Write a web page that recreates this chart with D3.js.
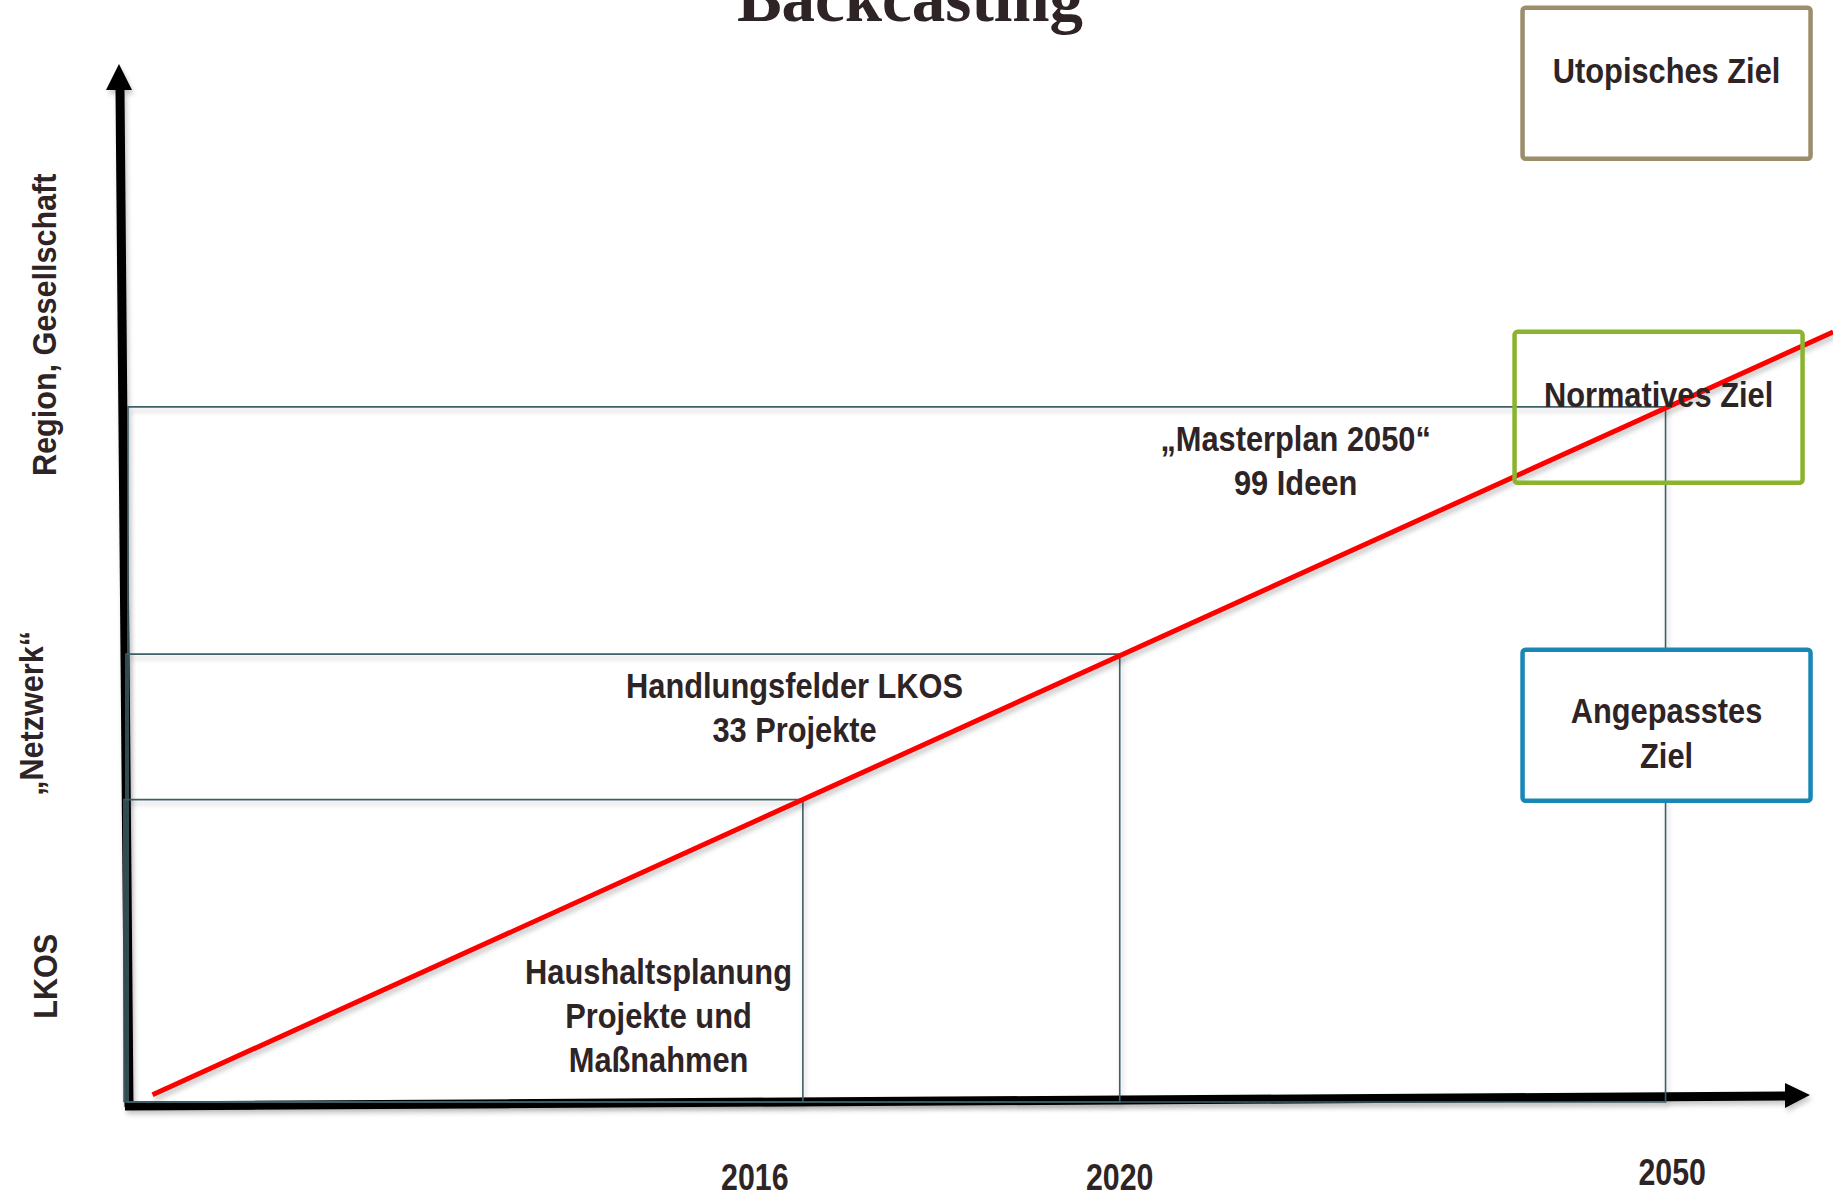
<!DOCTYPE html>
<html>
<head>
<meta charset="utf-8">
<script src="https://cdn.jsdelivr.net/npm/d3@7/dist/d3.min.js"></script>
<style>
body{margin:0;background:#fff;}
svg{display:block;}
.lbl{font-family:"Liberation Sans",Arial,sans-serif;font-weight:bold;fill:#2e2426;}
</style>
</head>
<body>
<svg id="svg"></svg>
<script>
// planning horizons (time on x, scope on y, both 0..100)
var years = ["2016", "2020", "2050"],
	stageX = [40.8, 59.9, 92.8],
	stageY = [29.2, 43.2, 67.0],
	yearLabelX = [37.9, 59.9, 93.2],
	stageText = [["Haushaltsplanung", "Projekte und", "Maßnahmen"], ["Handlungsfelder LKOS", "33 Projekte"], ["„Masterplan 2050“", "99 Ideen"]],
	stageTextX = [32.1, 40.3, 70.5],
	stageTextY = [11.5, 39.0, 62.8];

// scope levels on the vertical axis
var scopes = ["LKOS", "„Netzwerk“", "Region, Gesellschaft"],
	scopeY = [12.2, 37.5, 74.9];

// goals on the right
var goals = [["Utopisches Ziel"], ["Normatives Ziel"], ["Angepasstes", "Ziel"]],
	goalY = [98.2, 67.0, 36.4],
	goalColor = ["#9c8e6a", "#8ab42e", "#1887b6"];

// backcasting path
var pathX = [1.6, 102.9],
	pathY = [0.8, 74.2];

var width = 1833, height = 1195, narrow = 0.88;
var svg = d3.select("#svg").attr("width", width).attr("height", height);
var x = d3.scaleLinear().domain([0, 100]).range([126, 1785]);
var y = d3.scaleLinear().domain([0, 100]).range([1103, 64]);

var defs = svg.append("defs");
var f = defs.append("filter").attr("id", "shadow").attr("x", "-5%").attr("y", "-5%").attr("width", "110%").attr("height", "110%");
f.append("feDropShadow").attr("dx", 2).attr("dy", 4).attr("stdDeviation", 2.5).attr("flood-color", "#000").attr("flood-opacity", 0.22);

// title (cut at the top edge as in the original)
svg.append("text")
	.attr("x", 910).attr("y", 21)
	.attr("text-anchor", "middle")
	.style("font-family", "'Liberation Serif', serif")
	.style("font-weight", "bold")
	.style("font-size", "67px")
	.style("fill", "#2e2426")
	.text("Backcasting");

// axes with arrow heads
function drawAxes(){
	var g = svg.append("g").attr("filter", "url(#shadow)");
	// vertical
	g.append("line")
		.attr("x1", x(0) + 3).attr("y1", y(0) + 4)
		.attr("x2", x(0) - 6).attr("y2", y(100) + 26)
		.attr("stroke", "#000").attr("stroke-width", 9);
	g.append("path")
		.attr("d", d3.line()([[x(0) - 7, y(100)], [x(0) - 20, y(100) + 26], [x(0) + 6, y(100) + 26]]))
		.attr("fill", "#000");
	// horizontal
	g.append("line")
		.attr("x1", x(0) - 1).attr("y1", y(0) + 3)
		.attr("x2", x(100)).attr("y2", y(0) - 7)
		.attr("stroke", "#000").attr("stroke-width", 9);
	g.append("path")
		.attr("d", d3.line()([[x(100), y(0) - 20], [x(100) + 25, y(0) - 8], [x(100), y(0) + 5]]))
		.attr("fill", "#000");
}
drawAxes();

// horizon frames
svg.append("g").selectAll("path")
	.data(years)
	.enter().append("path")
	.attr("d", function(d, i){
		var l = x(0) - 2 + i * 2, b = y(0) - 1;
		return "M" + l + "," + b + "V" + y(stageY[i]) + "H" + x(stageX[i]) + "V" + b + "H" + l;
	})
	.attr("fill", "none")
	.attr("stroke", "#3e6068")
	.attr("stroke-width", 1.6)
	.attr("filter", "url(#shadow)");

// backcasting line
svg.append("line")
	.attr("x1", x(pathX[0])).attr("y1", y(pathY[0]))
	.attr("x2", x(pathX[1])).attr("y2", y(pathY[1]))
	.attr("stroke", "#ff0000").attr("stroke-width", 5)
	.attr("filter", "url(#shadow)");

// multi-line condensed label helper
function lines(sel, size, lh, sx){
	sel.attr("class", "lbl")
		.attr("text-anchor", "middle")
		.style("font-size", size + "px")
		.selectAll("tspan")
		.data(function(d){ return d; })
		.enter().append("tspan")
		.attr("x", 0)
		.attr("dy", function(d, j){ return j ? lh : 0; })
		.text(function(d){ return d; });
}

// horizon texts
svg.append("g").selectAll("text")
	.data(stageText)
	.enter().append("text")
	.attr("transform", function(d, i){ return "translate(" + x(stageTextX[i]) + "," + y(stageTextY[i]) + ") scale(" + narrow + ",1)"; })
	.call(lines, 35, 44);

// year labels
svg.append("g").selectAll("text")
	.data(years)
	.enter().append("text")
	.attr("class", "lbl")
	.attr("text-anchor", "middle")
	.style("font-size", "37px")
	.attr("transform", function(d, i){ return "translate(" + x(yearLabelX[i]) + "," + (i == 2 ? 1185 : 1190) + ") scale(0.82,1)"; })
	.text(function(d){ return d; });

// scope labels (rotated)
var scopeBase = [57, 43, 56];
svg.append("g").selectAll("text")
	.data(scopes)
	.enter().append("text")
	.attr("class", "lbl")
	.attr("text-anchor", "middle")
	.style("font-size", "34px")
	.attr("transform", function(d, i){ return "translate(" + scopeBase[i] + "," + y(scopeY[i]) + ") rotate(-90) scale(0.9,1)"; })
	.text(function(d){ return d; });

// goal boxes
var goalG = svg.append("g").selectAll("g")
	.data(goals)
	.enter().append("g")
	.attr("transform", function(d, i){ return "translate(" + (x(stageX[2]) + (i == 1 ? -7 : 1)) + "," + y(goalY[i]) + ")"; });

goalG.append("rect")
	.attr("x", -144).attr("y", -75)
	.attr("width", 288).attr("height", 151)
	.attr("rx", 3)
	.attr("fill", function(d, i){ return i == 1 ? "none" : "#fff"; })
	.attr("stroke", function(d, i){ return goalColor[i]; })
	.attr("stroke-width", 4.5);

goalG.append("text")
	.attr("transform", function(d){ return "translate(0," + (d.length > 1 ? -2 : 0) + ") scale(" + narrow + ",1)"; })
	.call(lines, 35, 45);
</script>
</body>
</html>
